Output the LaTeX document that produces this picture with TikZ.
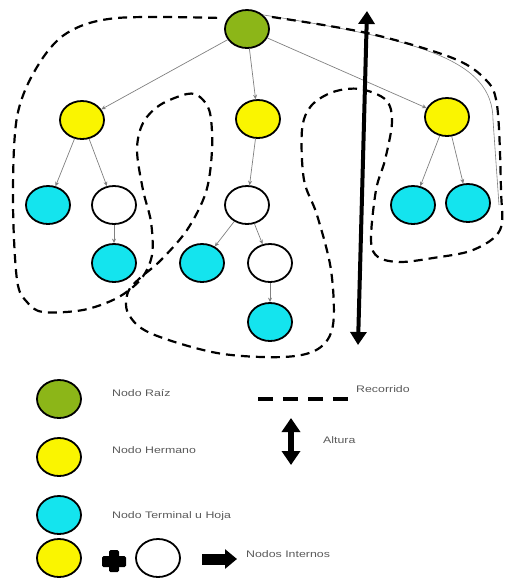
\documentclass[tikz,border=0pt]{standalone}
\usepackage{fontspec}
\setmainfont{Liberation Sans}
\newfontfamily\etiqfont[FakeStretch=1.3]{Liberation Sans}
\usetikzlibrary{shapes.geometric,arrows.meta}
\definecolor{raiz}{RGB}{140,182,24}
\definecolor{hermano}{RGB}{250,245,0}
\definecolor{hoja}{RGB}{20,228,238}
\definecolor{etiq}{RGB}{90,90,90}
\tikzset{
  nodo/.style={ellipse, draw=black, line width=1.8pt, minimum width=44pt, minimum height=38pt, inner sep=0pt},
  nraiz/.style={nodo, fill=raiz},
  nherm/.style={nodo, fill=hermano},
  nhoja/.style={nodo, fill=hoja},
  nint/.style={nodo, fill=white},
  arista/.style={draw=gray, line width=0.7pt, -{Stealth[length=4.5pt,width=4pt]}},
  recorrido/.style={line width=2.2pt, dash pattern=on 9pt off 6pt},
  etiqueta/.style={anchor=west, inner sep=0pt, text=etiq, font=\etiqfont\fontsize{9.5}{11}\selectfont},
}
\begin{document}
\begin{tikzpicture}[x=1pt,y=-1pt]
\useasboundingbox (0,0) rectangle (508,582);

% tree
\node[nraiz] (r) at (247,29) {};
\node[nherm] (a) at (82,120) {};
\node[nherm] (b) at (258,119) {};
\node[nherm] (c) at (447,117) {};
\node[nhoja] (a1) at (48,205) {};
\node[nint]  (a2) at (114,205) {};
\node[nhoja] (a3) at (114,263) {};
\node[nint]  (b1) at (247,205) {};
\node[nhoja] (b2) at (202,263) {};
\node[nint]  (b3) at (270,263) {};
\node[nhoja] (b4) at (270,322) {};
\node[nhoja] (c1) at (413,205) {};
\node[nhoja] (c2) at (468,203) {};

\draw[arista] (r) -- (a);
\draw[arista] (r) -- (b);
\draw[arista] (r) -- (c);
\draw[arista] (a) -- (a1);
\draw[arista] (a) -- (a2);
\draw[arista] (a2) -- (a3);
\draw[arista] (b) -- (b1);
\draw[arista] (b1) -- (b2);
\draw[arista] (b1) -- (b3);
\draw[arista] (b3) -- (b4);
\draw[arista] (c) -- (c1);
\draw[arista] (c) -- (c2);

% thin guide along the right side
\coordinate (finguia) at (499,205);
\draw[gray, line width=0.6pt] (r.north east) .. controls (420,40) and (493,60) .. (493,120) -- (finguia);

% traversal (dashed tour around the tree)
\draw[recorrido] plot[smooth, tension=0.55] coordinates {
 (272,17) (367,33) (450,57) (484,78) (497,105) (501,190) (500,230) (473,250)
 (433,258) (400,262) (378,257) (371,240) (376,190) (385,160) (392,122) (386,100)
 (360,89) (333,92) (311,106) (302,130) (304,180) (317,215) (331,270) (333,325)
 (318,349) (283,357) (217,353) (150,333) (128,313) (128,292) (140,278) (160,261)
 (187,230) (206,192) (212,150) (210,113) (200,97) (187,94) (160,105) (143,123)
 (137,150) (143,190) (151,222) (152,255) (141,279) (117,298) (83,310) (43,312)
 (27,302) (17,280) (13,200) (17,117) (37,67) (67,33) (117,18) (222,18)};

% height arrow
\coordinate (hbajo) at (358,345);
\coordinate (halto) at (367,11);
\draw[line width=4pt, {Triangle[length=13pt,width=16pt]}-{Triangle[length=13pt,width=16pt]}] (hbajo) -- (halto);

% legend
\node[nraiz] (lr) at (59,399) {};
\node[nherm] (lh) at (59,457) {};
\node[nhoja] (lt) at (59,515) {};
\node[nherm] (li) at (59,558) {};
\node[nint]  (lw) at (158,558) {};
\node[etiqueta] (tr) at (112,393) {Nodo Raíz};
\node[etiqueta] (th) at (112,450) {Nodo Hermano};
\node[etiqueta] (tt) at (112,516) {Nodo Terminal u Hoja};
\node[etiqueta] (ti) at (246,554) {Nodos Internos};
\node[etiqueta] (trec) at (356,389) {Recorrido};
\node[etiqueta] (talt) at (323,440) {Altura};

% plus sign
\fill[rounded corners=1.5pt] (109,550) rectangle (119,572);
\fill[rounded corners=1.5pt] (102,556) rectangle (126,567);

% fat arrow
\coordinate (fa) at (202,559);
\coordinate (fb) at (237,559);
\draw[line width=11pt, -{Triangle[length=12pt,width=19pt]}] (fa) -- (fb);

% legend for traversal
\coordinate (ra) at (258,399);
\coordinate (rb) at (348,399);
\draw[line width=4pt, dash pattern=on 15pt off 10pt] (ra) -- (rb);

% legend for height
\coordinate (aa) at (291,418);
\coordinate (ab) at (291,465);
\draw[line width=6pt, {Triangle[length=14pt,width=18pt]}-{Triangle[length=14pt,width=18pt]}] (aa) -- (ab);
\end{tikzpicture}
\end{document}
